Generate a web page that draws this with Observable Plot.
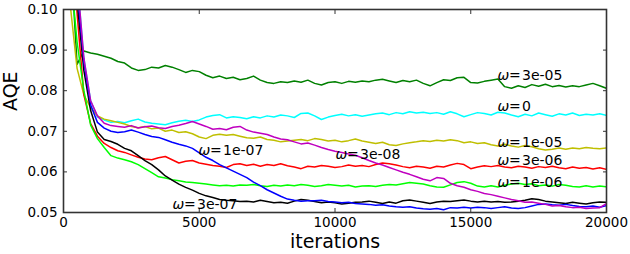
<!DOCTYPE html>
<html><head><meta charset="utf-8">
<script src="https://cdn.jsdelivr.net/npm/d3@7"></script>
<script src="https://cdn.jsdelivr.net/npm/@observablehq/plot@0.6"></script>
<style>
html,body{margin:0;padding:0;background:#fff;}
</style></head><body><div id="chart"></div>
<script>
// sample grid (iterations)
const iterations = d3.range(250, 20001, 250);

const omegaLabels = ["3e-05", "0", "1e-05", "3e-06", "1e-06", "3e-07", "1e-07", "3e-08"];
const omegaColors = ["#008000", "#00ffff", "#bfbf00", "#ff0000", "#00ff00", "#000000", "#0000ff", "#bf00bf"];

const aqe_3e05 = [0.115,0.0865,0.0898,0.0893,0.0890,0.0885,0.0880,0.0872,0.0868,0.0856,
 0.0850,0.0852,0.0858,0.0856,0.0862,0.0858,0.0852,0.0845,0.0850,0.0847,
 0.0838,0.0832,0.0836,0.0830,0.0833,0.0827,0.0830,0.0836,0.0826,0.0820,
 0.0818,0.0822,0.0820,0.0824,0.0821,0.0826,0.0818,0.0814,0.0820,0.0822,
 0.0818,0.0823,0.0821,0.0824,0.0822,0.0826,0.0828,0.0824,0.0820,0.0825,
 0.0822,0.0826,0.0818,0.0812,0.0820,0.0827,0.0825,0.0832,0.0833,0.0820,
 0.0819,0.0823,0.0826,0.0829,0.0810,0.0806,0.0812,0.0808,0.0815,0.0811,
 0.0816,0.0810,0.0813,0.0809,0.0812,0.0810,0.0814,0.0818,0.0812,0.0806];

const aqe_0 = [0.14,0.108,0.088,0.0775,0.0735,0.0728,0.0722,0.0724,0.0721,0.0726,
 0.0730,0.0723,0.0720,0.0718,0.0716,0.0721,0.0725,0.0727,0.0724,0.0728,
 0.0735,0.0739,0.0741,0.0733,0.0736,0.0734,0.0731,0.0736,0.0733,0.0738,
 0.0735,0.0740,0.0738,0.0734,0.0744,0.0745,0.0738,0.0729,0.0735,0.0739,
 0.0742,0.0738,0.0741,0.0737,0.0740,0.0743,0.0745,0.0741,0.0746,0.0743,
 0.0748,0.0745,0.0747,0.0744,0.0746,0.0742,0.0748,0.0743,0.0736,0.0741,
 0.0746,0.0744,0.0740,0.0747,0.0745,0.0740,0.0736,0.0742,0.0738,0.0745,
 0.0741,0.0737,0.0743,0.0740,0.0745,0.0739,0.0742,0.0740,0.0743,0.0739];

const aqe_1e05 = [0.101,0.0855,0.0790,0.0758,0.0738,0.0730,0.0726,0.0722,0.0718,0.0712,
 0.0709,0.0712,0.0706,0.0708,0.0700,0.0703,0.0697,0.0699,0.0694,0.0686,
 0.0682,0.0690,0.0693,0.0690,0.0692,0.0688,0.0684,0.0683,0.0686,0.0680,
 0.0678,0.0674,0.0676,0.0678,0.0680,0.0677,0.0682,0.0680,0.0676,0.0678,
 0.0674,0.0677,0.0681,0.0676,0.0673,0.0670,0.0673,0.0667,0.0665,0.0669,
 0.0672,0.0674,0.0677,0.0675,0.0678,0.0676,0.0679,0.0677,0.0672,0.0674,
 0.0670,0.0672,0.0667,0.0664,0.0668,0.0664,0.0661,0.0665,0.0662,0.0657,
 0.0654,0.0656,0.0659,0.0656,0.0659,0.0657,0.0660,0.0658,0.0657,0.0659];

const aqe_3e06 = [0.125,0.099,0.079,0.0719,0.0688,0.0670,0.0660,0.0652,0.0648,0.0642,
 0.0636,0.0632,0.0630,0.0635,0.0638,0.0630,0.0622,0.0626,0.0628,0.0622,
 0.0619,0.0616,0.0614,0.0611,0.0618,0.0620,0.0616,0.0619,0.0614,0.0618,
 0.0616,0.0620,0.0615,0.0612,0.0608,0.0614,0.0612,0.0616,0.0614,0.0611,
 0.0613,0.0617,0.0614,0.0616,0.0613,0.0618,0.0622,0.0620,0.0617,0.0613,
 0.0610,0.0614,0.0612,0.0609,0.0614,0.0612,0.0617,0.0621,0.0618,0.0608,
 0.0612,0.0615,0.0613,0.0616,0.0612,0.0610,0.0614,0.0612,0.0609,0.0613,
 0.0611,0.0614,0.0610,0.0608,0.0612,0.0609,0.0611,0.0607,0.0610,0.0606];

const aqe_1e06 = [0.110,0.092,0.080,0.0715,0.0682,0.0660,0.0640,0.0634,0.0630,0.0625,
 0.0618,0.0608,0.0598,0.0588,0.0585,0.0581,0.0578,0.0575,0.0574,0.0572,
 0.0570,0.0568,0.0566,0.0567,0.0565,0.0568,0.0567,0.0569,0.0566,0.0564,
 0.0567,0.0565,0.0568,0.0566,0.0569,0.0567,0.0564,0.0566,0.0569,0.0567,
 0.0565,0.0567,0.0563,0.0565,0.0566,0.0564,0.0567,0.0569,0.0568,0.0571,
 0.0574,0.0572,0.0570,0.0566,0.0563,0.0562,0.0568,0.0574,0.0576,0.0572,
 0.0565,0.0563,0.0566,0.0563,0.0567,0.0570,0.0572,0.0569,0.0571,0.0566,
 0.0568,0.0565,0.0569,0.0567,0.0564,0.0563,0.0566,0.0563,0.0565,0.0563];

const aqe_3e07 = [0.14,0.102,0.085,0.0751,0.0698,0.0680,0.0675,0.0668,0.0658,0.0652,
 0.0640,0.0628,0.0618,0.0605,0.0590,0.0580,0.0570,0.0562,0.0555,0.0547,
 0.0541,0.0537,0.0532,0.0530,0.0529,0.0527,0.0528,0.0526,0.0530,0.0527,
 0.0524,0.0525,0.0523,0.0528,0.0532,0.0530,0.0527,0.0524,0.0526,0.0524,
 0.0521,0.0523,0.0525,0.0526,0.0528,0.0525,0.0522,0.0526,0.0523,0.0529,
 0.0531,0.0528,0.0525,0.0522,0.0526,0.0528,0.0527,0.0529,0.0531,0.0528,
 0.0526,0.0528,0.0526,0.0527,0.0525,0.0526,0.0528,0.0530,0.0534,0.0532,
 0.0528,0.0526,0.0524,0.0522,0.0525,0.0523,0.0521,0.0524,0.0526,0.0525];

const aqe_1e07 = [0.15,0.105,0.087,0.0765,0.0722,0.0708,0.0700,0.0697,0.0699,0.0703,
 0.0698,0.0692,0.0687,0.0685,0.0679,0.0673,0.0668,0.0664,0.0658,0.0647,
 0.0636,0.0628,0.0618,0.0610,0.0602,0.0594,0.0586,0.0575,0.0566,0.0556,
 0.0548,0.0540,0.0533,0.0530,0.0528,0.0529,0.0529,0.0530,0.0527,0.0526,
 0.0524,0.0525,0.0522,0.0521,0.0520,0.0518,0.0519,0.0516,0.0514,0.0513,
 0.0514,0.0511,0.0509,0.0508,0.0510,0.0507,0.0512,0.0511,0.0513,0.0511,
 0.0513,0.0512,0.0510,0.0512,0.0514,0.0511,0.0510,0.0512,0.0516,0.0520,
 0.0521,0.0519,0.0518,0.0520,0.0517,0.0515,0.0514,0.0516,0.0513,0.0517];

const aqe_3e08 = [0.15,0.108,0.088,0.0775,0.0738,0.0720,0.0714,0.0712,0.0710,0.0714,
 0.0708,0.0711,0.0713,0.0709,0.0707,0.0712,0.0715,0.0719,0.0724,0.0718,
 0.0712,0.0705,0.0707,0.0704,0.0710,0.0712,0.0703,0.0698,0.0695,0.0692,
 0.0686,0.0681,0.0679,0.0674,0.0669,0.0671,0.0666,0.0660,0.0655,0.0651,
 0.0648,0.0644,0.0641,0.0635,0.0628,0.0622,0.0617,0.0611,0.0605,0.0599,
 0.0594,0.0588,0.0582,0.0578,0.0586,0.0584,0.0572,0.0566,0.0562,0.0556,
 0.0552,0.0547,0.0544,0.0540,0.0536,0.0532,0.0529,0.0525,0.0526,0.0523,
 0.0520,0.0516,0.0517,0.0514,0.0512,0.0513,0.0510,0.0511,0.0512,0.0522];

const seriesValues = [aqe_3e05, aqe_0, aqe_1e05, aqe_3e06, aqe_1e06, aqe_3e07, aqe_1e07, aqe_3e08];

// annotation positions (data units) for each omega label, same order as omegaLabels
const labelIter = [15985, 15985, 15985, 15985, 15985, 4015, 4972, 10018];
const labelAQE  = [0.0837, 0.0761, 0.0673, 0.0628, 0.0575, 0.0520, 0.0653, 0.0642];

const xTicks = [0, 5000, 10000, 15000, 20000];
const yTicks = [0.05, 0.06, 0.07, 0.08, 0.09, 0.10];

const rows = [];
omegaLabels.forEach((s, j) => {
  iterations.forEach((it, i) => rows.push({s, it, v: seriesValues[j][i]}));
});
const labels = omegaLabels.map((s, j) => ({s, x: labelIter[j], y: labelAQE[j]}));

const font = "DejaVu Sans";
const chart = Plot.plot({
  width: 630, height: 254,
  marginLeft: 63, marginRight: 24, marginTop: 9, marginBottom: 42,
  style: {fontFamily: font, fontSize: "13.5px", color: "#000", background: "#fff", overflow: "visible"},
  x: {domain: [0, 20000]},
  y: {domain: [0.05, 0.10]},
  color: {domain: omegaLabels, range: omegaColors},
  marks: [
    Plot.line(rows, {x: "it", y: "v", z: "s", stroke: "s", strokeWidth: 1.5, clip: true}),
    Plot.axisY(yTicks, {anchor: "left", tickSize: -4, tickPadding: 10, tickFormat: d3.format(".2f"), label: null, stroke: "#333", fontSize: 13.5}),
    Plot.axisY(yTicks, {anchor: "right", tickSize: -4, tickFormat: () => "", label: null, stroke: "#333"}),
    Plot.axisX(xTicks, {anchor: "bottom", tickSize: -4, tickPadding: 9, tickFormat: d => String(d), label: null, stroke: "#333", fontSize: 13.5}),
    Plot.axisX(xTicks, {anchor: "top", tickSize: -4, tickFormat: () => "", label: null, stroke: "#333"}),
    Plot.frame({stroke: "#333", strokeWidth: 1.6}),
    Plot.text(labels, {x: "x", y: "y", text: () => "ω", textAnchor: "start", fontStyle: "italic", fontSize: 14, fill: "#000"}),
    Plot.text(labels, {x: "x", y: "y", text: () => "=", textAnchor: "start", dx: 11.5, fontSize: 14, fill: "#000"}),
    Plot.text(labels, {x: "x", y: "y", text: "s", textAnchor: "start", dx: 24.5, fontSize: 14, fill: "#000"}),
    Plot.text(["iterations"], {frameAnchor: "bottom", dy: 35.5, fontSize: 19, fill: "#000"}),
    Plot.text(["AQE"], {frameAnchor: "left", dx: -53, rotate: -90, fontSize: 19, fill: "#000"})
  ]
});
document.getElementById("chart").appendChild(chart);
</script></body></html>
